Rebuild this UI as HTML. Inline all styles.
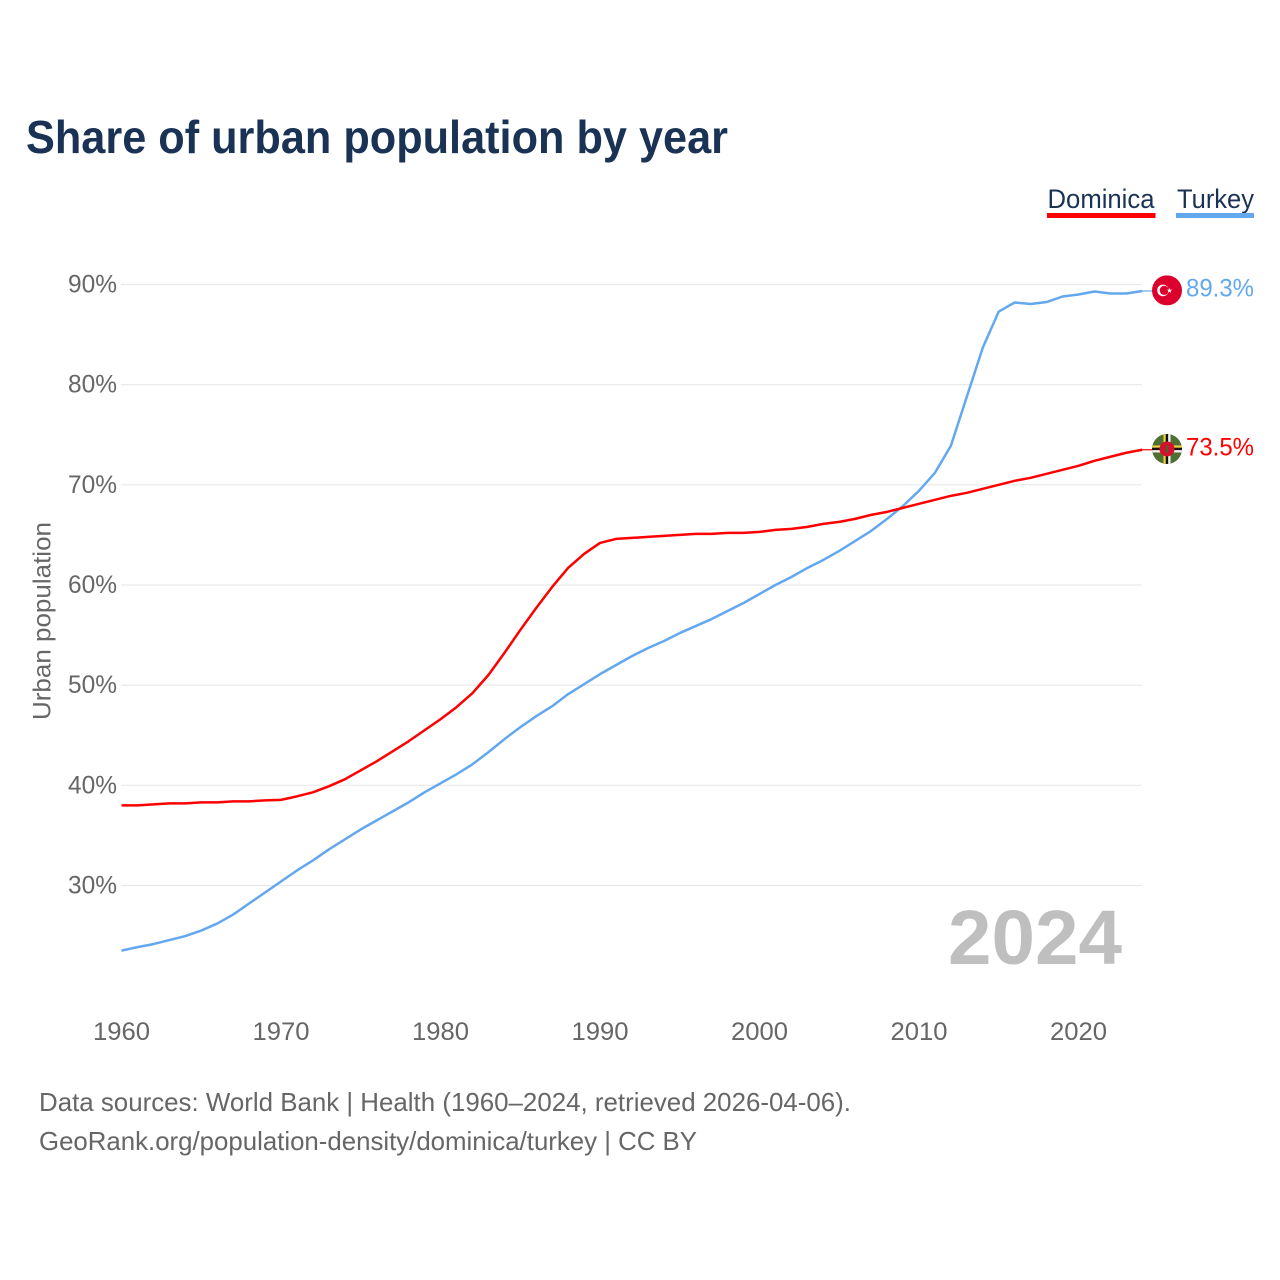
<!DOCTYPE html>
<html lang="en">
<head>
<meta charset="utf-8">
<title>Share of urban population by year</title>
<style>
html,body{margin:0;padding:0;background:#fff;}
svg{display:block;font-family:"Liberation Sans",sans-serif;}
</style>
</head>
<body>
<svg id="chart" width="1280" height="1280" viewBox="0 0 1280 1280" xmlns="http://www.w3.org/2000/svg">
  <defs>
    <clipPath id="flag-clip"><circle cx="0" cy="0" r="15"/></clipPath>
  </defs>
  <rect x="0" y="0" width="1280" height="1280" fill="#fff"/>
  <text x="26" y="153" font-size="46" font-weight="700" fill="#1a3354" textLength="702" lengthAdjust="spacingAndGlyphs">Share of urban population by year</text>

  <g>
    <g>
      <text x="1047.5" y="208" font-size="27" fill="#1a3354" textLength="107" lengthAdjust="spacingAndGlyphs">Dominica</text>
      <rect x="1047" y="213" width="108.500" height="5" fill="#ff0000"/>
    </g>
    <g>
      <text x="1177" y="208" font-size="27" fill="#1a3354" textLength="77" lengthAdjust="spacingAndGlyphs">Turkey</text>
      <rect x="1176" y="213" width="78" height="5" fill="#63a8ef"/>
    </g>
  </g>

  <g id="grid"></g>
  <g id="y-ticks"></g>
  <g id="x-ticks"></g>

  <text transform="translate(50.500,621) rotate(-90)" text-anchor="middle" font-size="25" fill="#666" textLength="198" lengthAdjust="spacingAndGlyphs">Urban population</text>

  <text x="948" y="964" font-size="77" font-weight="700" fill="#bfbfbf" textLength="174" lengthAdjust="spacingAndGlyphs">2024</text>

  <g id="series"></g>

  <g id="flag-turkey">
    <g clip-path="url(#flag-clip)">
      <rect x="-15" y="-15" width="30" height="30" fill="#dc002c"/>
      <circle cx="-4" cy="0" r="5.800" fill="#fff"/>
      <circle cx="-2.700" cy="0" r="4.600" fill="#dc002c"/>
      <polygon points="2.500,-2.500 3.200,-0.700 5.200,-0.700 3.600,0.500 4.200,2.400 2.500,1.300 0.800,2.400 1.400,0.500 -0.200,-0.700 1.800,-0.700" fill="#fff"/>
    </g>
  </g>

  <g id="flag-dominica">
    <g clip-path="url(#flag-clip)">
      <rect x="-15" y="-15" width="30" height="30" fill="#4f7030"/>
      <rect x="-3.500" y="-15" width="2.300" height="30" fill="#f0d040"/>
      <rect x="-1.200" y="-15" width="2.400" height="30" fill="#111"/>
      <rect x="1.200" y="-15" width="2.300" height="30" fill="#f4f4f4"/>
      <rect x="-15" y="-3.500" width="30" height="2.300" fill="#f0d040"/>
      <rect x="-15" y="-1.200" width="30" height="2.400" fill="#111"/>
      <rect x="-15" y="1.200" width="30" height="2.300" fill="#f4f4f4"/>
      <circle cx="0" cy="0" r="7.500" fill="#d4112e"/>
      <rect x="-1" y="-3.500" width="2" height="7" fill="#3f6a2a"/>
    </g>
  </g>

  <g id="end-labels"></g>

  <g>
    <text x="39" y="1111" font-size="26" fill="#666" textLength="812" lengthAdjust="spacingAndGlyphs">Data sources: World Bank | Health (1960–2024, retrieved 2026-04-06).</text>
    <text x="39" y="1150" font-size="26" fill="#666" textLength="658" lengthAdjust="spacingAndGlyphs">GeoRank.org/population-density/dominica/turkey | CC BY</text>
  </g>
</svg>

<script>
const firstYear = 1960;
const dominicaValues = [
  38.0,38.0,38.1,38.2,38.2,38.3,38.3,38.4,38.4,38.5,
  38.55,38.9,39.3,39.9,40.6,41.5,42.4,43.4,44.4,45.5,
  46.6,47.8,49.2,51.0,53.2,55.5,57.7,59.8,61.7,63.1,
  64.2,64.6,64.7,64.8,64.9,65.0,65.1,65.1,65.2,65.2,
  65.3,65.5,65.6,65.8,66.1,66.3,66.6,67.0,67.3,67.7,
  68.1,68.5,68.9,69.2,69.6,70.0,70.4,70.7,71.1,71.5,
  71.9,72.4,72.8,73.2,73.5
];
const turkeyValues = [
  23.5,23.85,24.15,24.55,24.95,25.5,26.2,27.1,28.2,29.3,
  30.4,31.5,32.5,33.6,34.6,35.6,36.5,37.4,38.3,39.3,
  40.2,41.1,42.1,43.3,44.6,45.8,46.9,47.9,49.1,50.1,
  51.1,52.0,52.9,53.7,54.4,55.2,55.9,56.6,57.4,58.2,
  59.1,60.0,60.8,61.7,62.5,63.4,64.4,65.4,66.6,67.9,
  69.4,71.2,73.9,78.8,83.7,87.3,88.2,88.05,88.25,88.8,
  89.0,89.3,89.1,89.1,89.35
];
const yTickValues = [30,40,50,60,70,80,90];
const xTickYears = [1960,1970,1980,1990,2000,2010,2020];
const dominicaEndLabel = "73.5%";
const turkeyEndLabel = "89.3%";

const NS = "http://www.w3.org/2000/svg";
function xScale(year){ return 121.5 + (year - 1960) * 15.95; }
function yScale(v){ return 885.5 - (v - 30) * 10.017; }
function make(tag, attrs, parent){
  const el = document.createElementNS(NS, tag);
  for (const k in attrs) el.setAttribute(k, attrs[k]);
  parent.appendChild(el);
  return el;
}

const grid = document.getElementById("grid");
const yTicks = document.getElementById("y-ticks");
yTickValues.forEach(function(v){
  const line = make("line", {x1:121, x2:1142, y1:yScale(v), y2:yScale(v), stroke:"#e9e9e9", "stroke-width":1.2}, grid);
  
  
  const t = make("text", {x:117, y:yScale(v)+8, "text-anchor":"end", "font-size":25, fill:"#666", textLength:49, lengthAdjust:"spacingAndGlyphs"}, yTicks);
  t.textContent = v + "%";
  
  
});

const xTicks = document.getElementById("x-ticks");
xTickYears.forEach(function(y){
  const t = make("text", {x:xScale(y), y:1040, "text-anchor":"middle", "font-size":25, fill:"#666", textLength:57, lengthAdjust:"spacingAndGlyphs"}, xTicks);
  t.textContent = String(y);
  
  
});

function pathFrom(values){
  return values.map(function(v,i){
    return (i ? "L" : "M") + xScale(firstYear + i).toFixed(2) + " " + yScale(v).toFixed(2);
  }).join(" ");
}
const series = document.getElementById("series");

function drawSeries(values, color, key){
  const last = values[values.length - 1];
  const lastX = xScale(firstYear + values.length - 1);
  const tail = make("line", {x1:lastX, x2:lastX + 10, y1:yScale(last), y2:yScale(last), stroke:color, "stroke-width":1.2}, series);
  
  
  const p = make("path", {d:pathFrom(values), fill:"none", stroke:color, "stroke-width":2.5, "stroke-linejoin":"round"}, series);
  
  
}
drawSeries(turkeyValues, "#63a8ef", "turkey");
drawSeries(dominicaValues, "#ff0000", "dominica");

const turkeyLast = turkeyValues[turkeyValues.length - 1];
const dominicaLast = dominicaValues[dominicaValues.length - 1];
document.getElementById("flag-turkey").setAttribute("transform", "translate(1167," + (yScale(turkeyLast) - 0.6) + ")");
document.getElementById("flag-dominica").setAttribute("transform", "translate(1167," + (yScale(dominicaLast) - 0.8) + ")");

const endLabels = document.getElementById("end-labels");
const tLabel = make("text", {x:1186, y:yScale(turkeyLast)+5.6, "font-size":25, fill:"#63a8ef", textLength:68, lengthAdjust:"spacingAndGlyphs"}, endLabels);
tLabel.textContent = turkeyEndLabel;


const dLabel = make("text", {x:1186, y:yScale(dominicaLast)+5.6, "font-size":25, fill:"#ff0000", textLength:68, lengthAdjust:"spacingAndGlyphs"}, endLabels);
dLabel.textContent = dominicaEndLabel;


</script>
</body>
</html>
